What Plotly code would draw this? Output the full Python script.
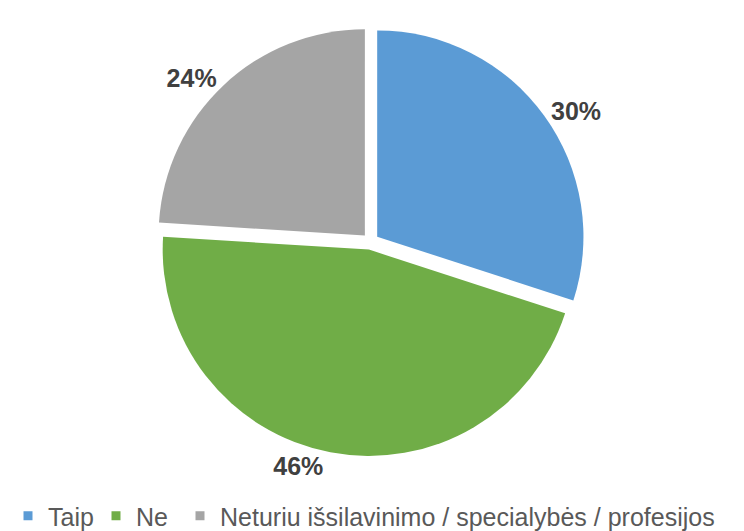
import plotly.graph_objects as go

categories = ["Taip", "Ne", "Neturiu išsilavinimo / specialybės / profesijos"]
values = [30, 46, 24]
colors = ["#5B9BD5", "#70AD47", "#A5A5A5"]

fig = go.Figure(go.Pie(
    labels=categories,
    values=values,
    text=[f"{v}%" for v in values],
    textinfo="text",
    textposition="outside",
    textfont=dict(family="Liberation Sans, Arial", size=25, color="#404040", weight="bold"),
    marker=dict(colors=colors, line=dict(color="white", width=0)),
    pull=[0.04, 0.04, 0.04],
    sort=False,
    direction="clockwise",
    rotation=0,
    hoverinfo="label+percent",
    showlegend=False,
))

# Legend entries: one dummy trace per category, each in its own legend so they sit in one row
legend_names = ["legend", "legend2", "legend3"]
legend_x = [0.0, 88 / 744, 172 / 744]
for cat, col, lg in zip(categories, colors, legend_names):
    fig.add_trace(go.Scatter(
        x=[None], y=[None], mode="markers", name=cat,
        marker=dict(symbol="square", color=col, size=9),
        legend=lg, showlegend=True, hoverinfo="skip",
    ))

legend_style = dict(
    orientation="h",
    xref="container", yref="container",
    xanchor="left", y=0.0, yanchor="bottom",
    font=dict(family="Liberation Sans, Arial", size=25, color="#595959"),
    itemwidth=30,
    bgcolor="rgba(0,0,0,0)",
)

fig.update_layout(
    width=744, height=531,
    margin=dict(l=0, r=0, t=0, b=75),
    paper_bgcolor="white",
    plot_bgcolor="white",
    showlegend=True,
    xaxis=dict(visible=False),
    yaxis=dict(visible=False),
    legend=dict(x=legend_x[0], **legend_style),
    legend2=dict(x=legend_x[1], **legend_style),
    legend3=dict(x=legend_x[2], **legend_style),
)

fig.write_html("out.html")
